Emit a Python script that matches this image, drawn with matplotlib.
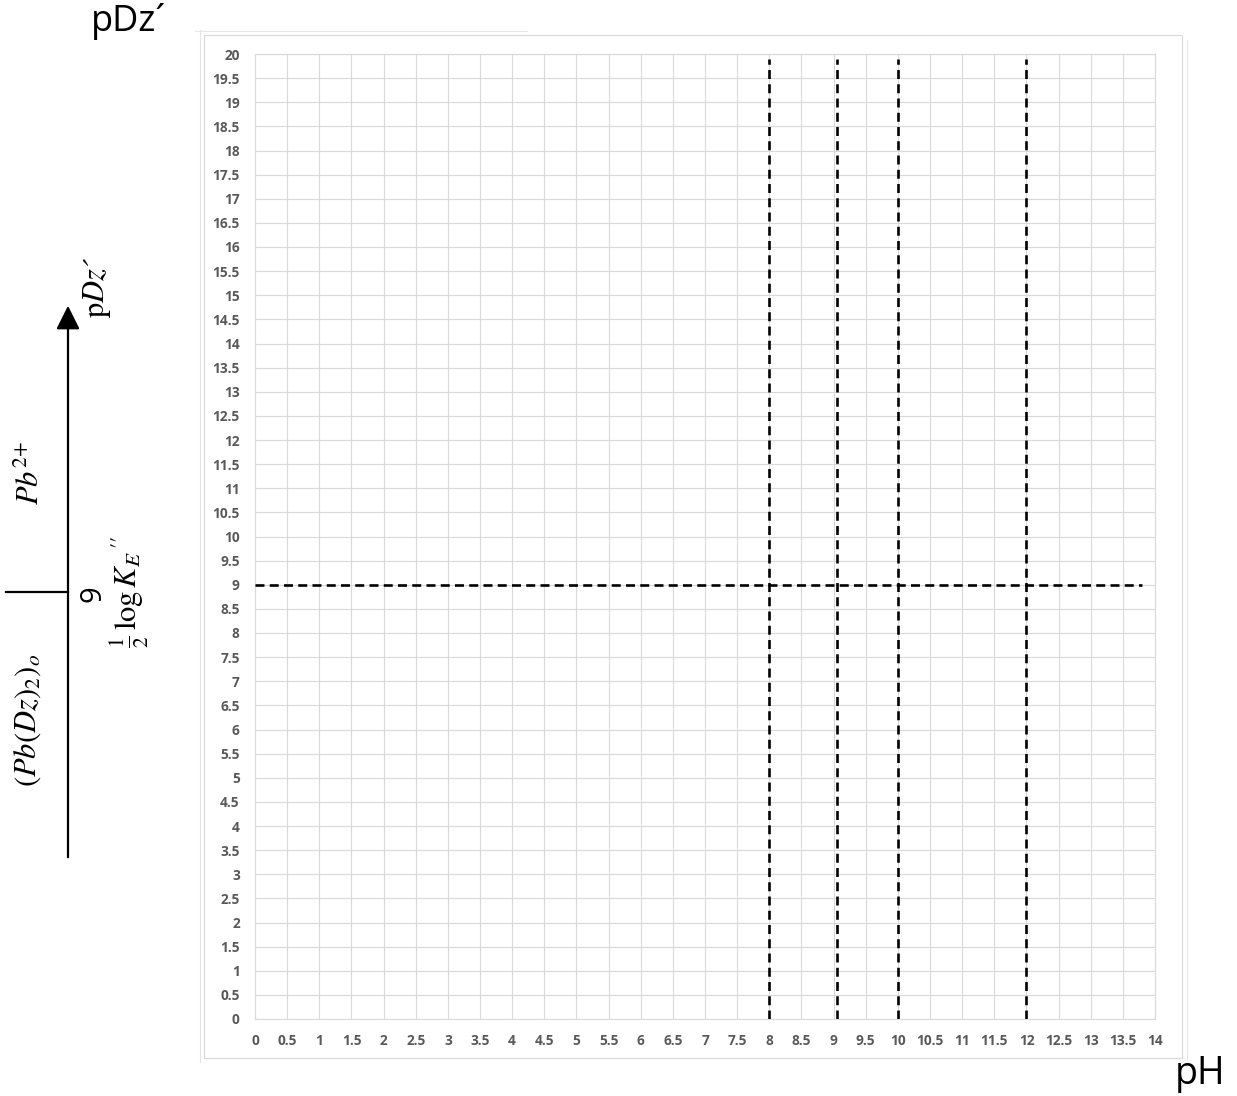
import matplotlib
matplotlib.use('Agg')
import matplotlib.pyplot as plt
from matplotlib.lines import Line2D
from matplotlib.patches import FancyArrowPatch, Rectangle
import numpy as np

W, H = 1237, 1096

# chart data
x_ticks = np.arange(0, 14.01, 0.5)
y_ticks = np.arange(0, 20.01, 0.5)
vert_x   = [8, 9.05, 10, 12]      # vertical dashed lines (pH)
vert_y   = [0, 19.9]              # span of the vertical lines
horiz_y  = 9                      # horizontal dashed line (pDz')
horiz_x  = [0, 13.8]


def fmt(v):
    return f'{v:g}'


def px(x, y):
    # pixel coords (top-left origin) -> figure fraction
    return x / W, 1 - y / H


plt.rcParams['mathtext.fontset'] = 'stix'
fig = plt.figure(figsize=(W / 100, H / 100), dpi=100)
fig.patch.set_facecolor('white')

ax = fig.add_axes([255 / W, (H - 1019) / H, 900 / W, 965 / H])
ax.set_xlim(0, 14)
ax.set_ylim(0, 20)
ax.set_xticks(x_ticks)
ax.set_yticks(y_ticks)
ax.set_xticklabels([fmt(v) for v in x_ticks])
ax.set_yticklabels([fmt(v) for v in y_ticks])
ax.tick_params(length=0, pad=11, labelsize=9.8, labelcolor='#595959')
for lab in ax.get_xticklabels() + ax.get_yticklabels():
    lab.set_fontfamily('Open Sans')
    lab.set_fontweight('bold')
ax.grid(True, color='#d9d9d9', linewidth=0.8)
ax.set_axisbelow(True)
for sp in ax.spines.values():
    sp.set_color('#d9d9d9')
    sp.set_linewidth(0.8)

dash = dict(color='black', linewidth=1.9, linestyle=(0, (3.4, 2.0)), zorder=5)
for xv in vert_x:
    ax.plot([xv, xv], vert_y, **dash)
ax.plot(horiz_x, [horiz_y, horiz_y], **dash)

# chart-area frames (screenshot borders)
fig.add_artist(Rectangle(px(204, 1058), 978 / W, 1023 / H, transform=fig.transFigure,
                         fill=False, edgecolor='#d9d9d9', linewidth=0.8))
fig.add_artist(Line2D([px(195, 31)[0], px(527, 31)[0]], [px(0, 31)[1]] * 2,
                      color='#e6e6e6', linewidth=0.8))
fig.add_artist(Line2D([px(200, 0)[0]] * 2, [px(0, 30)[1], px(0, 1062)[1]],
                      color='#e6e6e6', linewidth=0.8))
fig.add_artist(Line2D([px(1187, 0)[0]] * 2, [px(0, 40)[1], px(0, 1060)[1]],
                      color='#e6e6e6', linewidth=0.8))

# axis titles
fig.text(*px(91, 21), 'pDz\u00b4', fontsize=26, family='Open Sans', va='center', ha='left')
fig.text(*px(1175, 1074), 'pH', fontsize=27, family='Open Sans', va='center', ha='left')

# left-hand predominance diagram
arr = FancyArrowPatch(px(68, 860), px(68, 303), transform=fig.transFigure,
                      arrowstyle='-|>,head_length=0.9,head_width=0.45',
                      mutation_scale=16, color='black', linewidth=1.6)
fig.add_artist(arr)
fig.add_artist(Line2D([px(6, 0)[0], px(68, 0)[0]], [px(0, 592)[1]] * 2,
                      color='black', linewidth=1.6))

fig.text(*px(97, 288), 'p$Dz$\u00b4', fontsize=22, family='STIXGeneral', rotation=90,
         ha='center', va='center')
fig.text(*px(30, 473), r'$Pb^{2\!+}$', fontsize=22, rotation=90, ha='center', va='center')
fig.text(*px(28, 720), r'$(Pb(Dz)_2)_o$', fontsize=22, rotation=90, ha='center', va='center')
fig.text(*px(93, 594), '9', fontsize=21, family='Open Sans', rotation=90,
         ha='center', va='center')
fig.text(*px(130, 592), r"$\frac{1}{2}\,\log K_E\,^{\prime\prime}$", fontsize=22, rotation=90,
         ha='center', va='center')

fig.savefig('out.png', dpi=100, facecolor='white')
